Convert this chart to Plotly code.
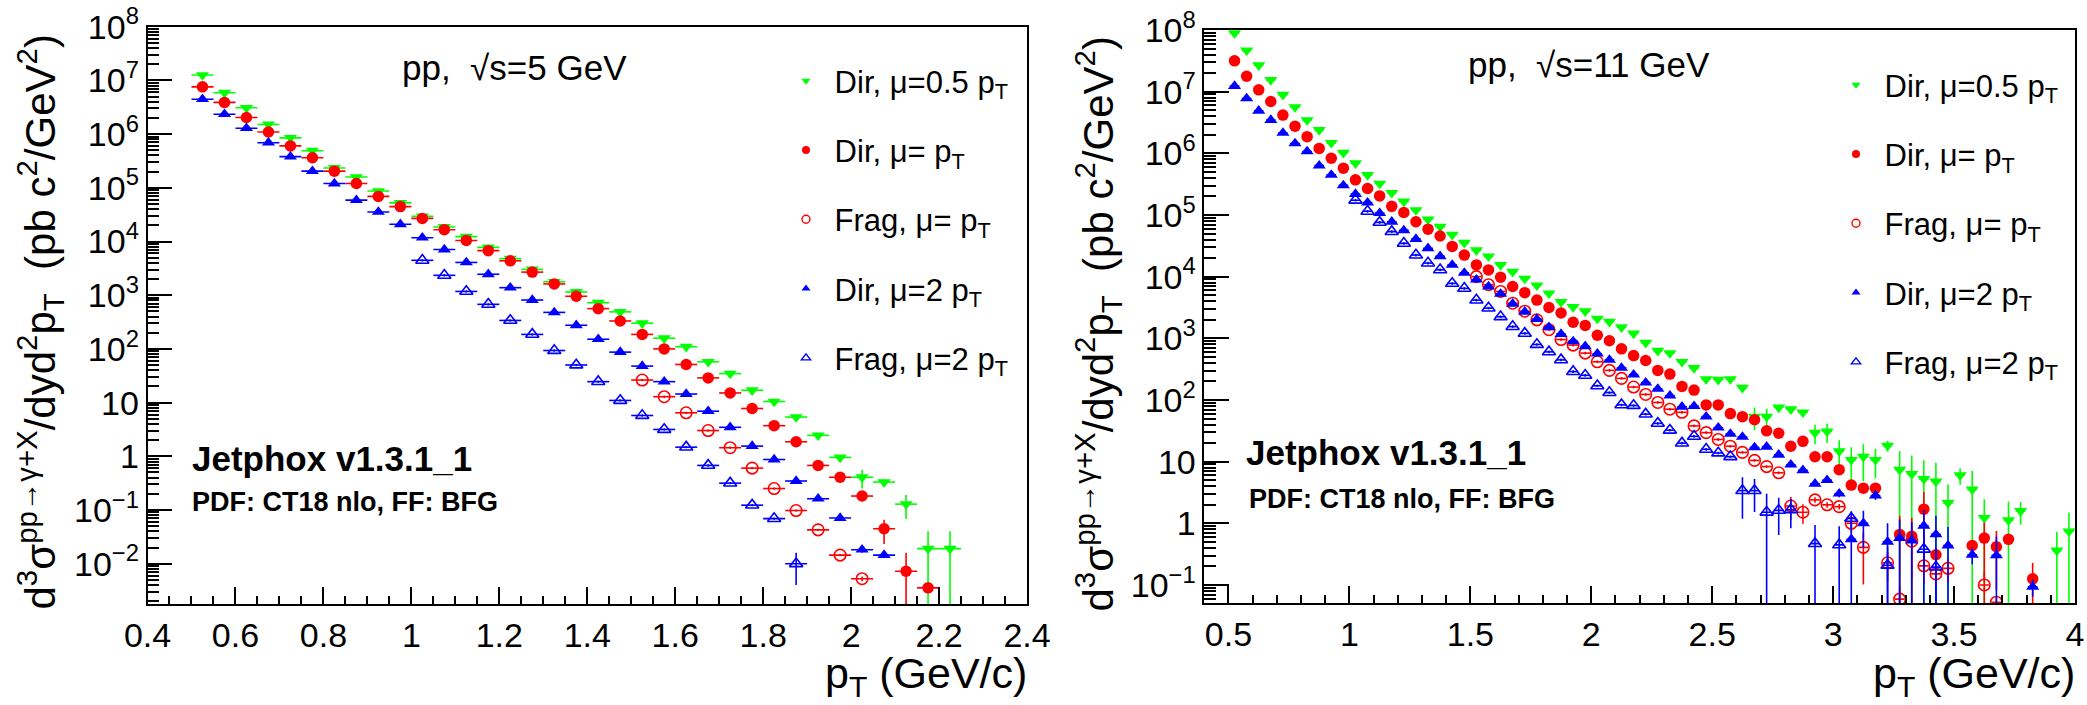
import plotly.graph_objects as go

FONT = "Liberation Sans, Arial, sans-serif"
W, H = 2087, 705

# ---------------- data (values stored as log10 of d3sigma, pb c^2/GeV^2) -------------
bins_L = [0.525, 0.575, 0.625, 0.675, 0.725, 0.775, 0.825, 0.875, 0.925, 0.975,
          1.025, 1.075, 1.125, 1.175, 1.225, 1.275, 1.325, 1.375, 1.425, 1.475,
          1.525, 1.575, 1.625, 1.675, 1.725, 1.775, 1.825, 1.875, 1.925, 1.975,
          2.025, 2.075, 2.125, 2.175, 2.225]
N = None
L_dir05 = [7.10, 6.77, 6.49, 6.18, 5.93, 5.69, 5.37, 5.20, 4.94, 4.72,
           4.47, 4.27, 4.09, 3.89, 3.68, 3.48, 3.25, 3.06, 2.86, 2.69,
           2.48, 2.20, 2.04, 1.76, 1.54, 1.23, 1.02, 0.73, 0.39, -0.02,
           -0.39, -0.48, -0.89, -1.72, -1.72]
L_dir1 = [6.88, 6.59, 6.31, 6.04, 5.78, 5.56, 5.31, 5.08, 4.84, 4.65,
          4.43, 4.22, 4.02, 3.83, 3.64, 3.43, 3.21, 2.98, 2.75, 2.52,
          2.27, 2.00, 1.71, 1.46, 1.18, 0.89, 0.57, 0.27, -0.17, -0.39,
          -0.74, -1.35, -2.14, -2.45, N]
L_frag1 = [N, N, N, N, N, N, N, N, N, N,
           N, N, N, N, N, N, N, N, N, N,
           1.42, 1.11, 0.81, 0.48, 0.16, -0.22, -0.60, -1.01, -1.37, -1.84,
           -2.28, N, N, N, N]
L_dir2 = [6.65, 6.37, 6.11, 5.84, 5.58, 5.31, 5.08, 4.77, 4.55, 4.32,
          4.07, 3.85, 3.61, 3.39, 3.14, 2.91, 2.68, 2.44, 2.18, 1.94,
          1.68, 1.39, 1.16, 0.84, 0.54, 0.19, -0.06, -0.46, -0.79, -1.15,
          -1.74, -1.84, N, N, N]
L_frag2 = [N, N, N, N, N, N, N, N, N, N,
           3.65, 3.37, 3.07, 2.83, 2.53, 2.27, 1.97, 1.70, 1.39, 1.04,
           0.76, 0.50, 0.17, -0.17, -0.50, -0.91, -1.16, -2.00, N, N,
           N, N, N, N, N]
# relative statistical errors (fraction of value)
e = 0.05
L_dir05_err = [e] * 29 + [0.1, 0.38, 0.12, 0.47, 1.1, 1.1]
L_dir1_err = [e] * 30 + [0.1, 0.48, 1.2, 0.15, e]
L_frag1_err = [e] * 30 + [0.1, e, e, e, e]
L_dir2_err = [e] * 30 + [0.12, 0.12, e, e, e]
L_frag2_err = [e] * 27 + [0.6] + [e] * 7

bins_R = [0.525, 0.575, 0.625, 0.675, 0.725, 0.775, 0.825, 0.875, 0.925, 0.975,
          1.025, 1.075, 1.125, 1.175, 1.225, 1.275, 1.325, 1.375, 1.425, 1.475,
          1.525, 1.575, 1.625, 1.675, 1.725, 1.775, 1.825, 1.875, 1.925, 1.975,
          2.025, 2.075, 2.125, 2.175, 2.225, 2.275, 2.325, 2.375, 2.425, 2.475,
          2.525, 2.575, 2.625, 2.675, 2.725, 2.775, 2.825, 2.875, 2.925, 2.975,
          3.025, 3.075, 3.125, 3.175, 3.225, 3.275, 3.325, 3.375, 3.425, 3.475,
          3.525, 3.575, 3.625, 3.675, 3.725, 3.775, 3.825, 3.875, 3.925, 3.975]
R_dir05 = [7.95, 7.67, 7.43, 7.19, 6.95, 6.75, 6.54, 6.38, 6.17, 6.01,
           5.84, 5.65, 5.51, 5.36, 5.22, 5.08, 4.93, 4.81, 4.68, 4.55,
           4.43, 4.33, 4.19, 4.08, 3.97, 3.86, 3.73, 3.59, 3.51, 3.44,
           3.32, 3.27, 3.18, 3.08, 2.93, 2.80, 2.76, 2.62, 2.52, 2.34,
           2.33, 2.34, 2.20, 1.73, 1.73, 1.88, 1.85, 1.80, 1.47, 1.49,
           1.17, 1.03, 1.08, 1.03, 1.26, 0.87, 0.80, 0.72, 0.68, 0.33,
           0.78, 0.55, 0.09, N, 0.05, 0.20, N, N, -0.44, -0.13]
R_dir1 = [7.50, 7.25, 7.03, 6.84, 6.62, 6.44, 6.27, 6.08, 5.92, 5.76,
          5.57, 5.43, 5.31, 5.14, 5.04, 4.89, 4.77, 4.66, 4.49, 4.35,
          4.19, 4.11, 3.99, 3.84, 3.74, 3.62, 3.50, 3.41, 3.26, 3.21,
          3.05, 2.96, 2.83, 2.72, 2.64, 2.48, 2.42, 2.22, 2.16, 1.92,
          1.92, 1.78, 1.73, 1.68, 1.50, 1.46, 1.25, 1.33, 1.08, 1.08,
          0.87, 0.62, 0.57, 0.57, N, -0.18, -0.21, 0.23, -0.51, N,
          N, -0.36, -0.24, -0.38, -0.26, N, -0.90, N, N, N]
R_frag1 = [N, N, N, N, N, N, N, N, N, N,
           N, N, N, N, N, N, N, N, N, N,
           4.00, 3.87, 3.76, 3.57, 3.44, 3.30, 3.14, 2.98, 2.89, 2.76,
           2.62, 2.48, 2.35, 2.21, 2.09, 1.96, 1.85, 1.80, 1.58, 1.47,
           1.36, 1.25, 1.15, 1.02, 0.92, 0.82, 0.28, 0.18, 0.38, 0.30,
           0.27, 0.00, -0.39, N, -0.64, -1.23, -0.29, -0.69, -0.82, -0.73,
           N, N, -1.00, -1.28, N, N, N, N, N, N]
R_dir2 = [7.09, 6.89, 6.69, 6.54, 6.33, 6.16, 6.03, 5.80, 5.65, 5.48,
          5.34, 5.20, 5.03, 4.89, 4.75, 4.61, 4.46, 4.33, 4.19, 4.06,
          3.95, 3.84, 3.72, 3.56, 3.43, 3.31, 3.18, 3.07, 2.95, 2.87,
          2.75, 2.65, 2.52, 2.41, 2.28, 2.18, 2.07, 1.89, 1.90, 1.73,
          1.55, 1.45, 1.40, 1.23, 1.24, 1.11, 0.95, 0.86, 0.64, 0.70,
          0.48, -0.26, 0.00, 0.45, -0.30, -0.24, -0.28, -0.04, -0.18, -0.36,
          N, -0.51, N, -0.52, N, N, -1.03, N, N, N]
R_frag2 = [N, N, N, N, N, N, N, N, N, N,
           5.24, 5.06, 4.88, 4.73, 4.54, 4.35, 4.22, 4.11, 3.89, 3.81,
           3.62, 3.49, 3.35, 3.19, 3.08, 2.90, 2.78, 2.65, 2.46, 2.40,
           2.23, 2.12, 1.92, 1.91, 1.77, 1.62, 1.51, 1.30, 1.41, 1.20,
           1.14, 1.08, 0.53, 0.53, 0.18, 0.21, 0.22, N, -0.33, N,
           -0.35, 0.08, N, N, -0.68, N, N, -0.42, -0.71, N,
           N, N, N, N, N, N, N, N, N, N]
R_dir05_err = ([e] * 43 + [0.4, 0.35, e, e, e, 0.35, 0.35, 0.5, 0.6, 0.6, 0.5, 0.2,
               1.0, 1.0, 1.0, 1.0, 1.0, 0.3, 1.0, 1.0, e, 1.0, 0.4, e, e, 1.0, 1.0])
R_dir1_err = ([e] * 46 + [0.1, e, e, e, e, 0.12, 0.12, 0.12, e, 1.0, 1.0, 0.9, 0.15,
              e, e, 0.2, 0.8, 0.8, 0.15, e, 0.8, e, e, e])
R_frag1_err = ([e] * 46 + [0.4, 0.35, 0.1, 0.1, 0.1, 0.3, 0.75, e, 0.5, 0.6, 0.75,
               0.5, 0.2, 0.4, e, e, 0.6, 0.2, e, e, e, e, e, e])
R_dir2_err = ([e] * 50 + [0.12, 1.0, 0.6, 0.15, 1.0, 1.0, 1.0, 0.8, 1.0, 1.0,
              e, 0.3, e, 1.0, e, e, 0.3, e, e, e])
R_frag2_err = ([e] * 42 + [0.65, 0.55, 1.0, 0.6, 0.5, e, 1.0, e, 1.0, 0.3, e, e,
               1.0, e, e, 1.0, 1.0, e, e, e, e, e, e, e, e, e, e, e])

names = [" Dir, \u03bc=0.5 p<sub>T</sub>", " Dir, \u03bc= p<sub>T</sub>",
         " Frag, \u03bc= p<sub>T</sub>", " Dir, \u03bc=2 p<sub>T</sub>",
         " Frag, \u03bc=2 p<sub>T</sub>"]
colors = ["#00ff00", "#ff0000", "#ff0000", "#0000ff", "#0000ff"]
symbols = ["triangle-down", "circle", "circle-open", "triangle-up", "triangle-up-open"]
sizes = [11.5, 11.5, 11.5, 11.5, 11.5]

fig = go.Figure()


def add_panel(bins, series, errs, xa, ya, half):
    for k, (logs, fr) in enumerate(zip(series, errs)):
        xs, ys, ep, em = [], [], [], []
        for x, l, f in zip(bins, logs, fr):
            if l is None:
                continue
            v = 10 ** l
            xs.append(x)
            ys.append(v)
            ep.append(f * v)
            em.append(min(f, 0.9995) * v)
        openm = symbols[k].endswith("open")
        fig.add_trace(go.Scatter(
            x=xs, y=ys, mode="markers", xaxis=xa, yaxis=ya, showlegend=False,
            marker=dict(symbol=symbols[k], size=sizes[k], color=colors[k],
                        line=dict(color=colors[k], width=1.6 if openm else 0)),
            error_y=dict(type="data", symmetric=False, array=ep, arrayminus=em,
                         color=colors[k], thickness=1.6, width=0),
            error_x=dict(type="constant", value=half, color=colors[k],
                         thickness=1.6, width=0),
        ))


add_panel(bins_L, [L_dir05, L_dir1, L_frag1, L_dir2, L_frag2],
          [L_dir05_err, L_dir1_err, L_frag1_err, L_dir2_err, L_frag2_err], "x", "y", 0.025)
add_panel(bins_R, [R_dir05, R_dir1, R_frag1, R_dir2, R_frag2],
          [R_dir05_err, R_dir1_err, R_frag1_err, R_dir2_err, R_frag2_err], "x2", "y2", 0.02)

# legend entries (marker-only samples)
for lg, xa, ya in [("legend", "x", "y"), ("legend2", "x2", "y2")]:
    for k in range(5):
        openm = symbols[k].endswith("open")
        fig.add_trace(go.Scatter(
            x=[None], y=[None], mode="markers", xaxis=xa, yaxis=ya, name=names[k],
            legend=lg, legendgroup=lg + str(k), showlegend=True,
            marker=dict(symbol=symbols[k], size=8, color=colors[k],
                        line=dict(color=colors[k], width=1.4 if openm else 0))))

sup = {-2: "10<sup>\u22122</sup>", -1: "10<sup>\u22121</sup>", 0: "1", 1: "10"}
def ytick(lo, hi):
    vals = [10.0 ** d for d in range(lo, hi + 1)]
    txt = [sup.get(d, "10<sup>%d</sup>" % d) for d in range(lo, hi + 1)]
    minor = [m * 10.0 ** d for d in range(lo - 1, hi) for m in range(2, 10)]
    return vals, txt, minor

axcommon = dict(showline=True, mirror=True, linecolor="black", linewidth=1.5,
                showgrid=False, zeroline=False, ticks="inside", tickwidth=1.5,
                tickcolor="black", automargin=False,
                tickfont=dict(family=FONT, size=34, color="black"))

yv, yt, ym = ytick(-2, 8)
fig.update_layout(
    xaxis=dict(domain=[147.5 / W, 1027 / W], range=[0.4, 2.4], anchor="y",
               tick0=0.4, dtick=0.2, ticklen=18,
               minor=dict(ticks="inside", ticklen=9, tick0=0.4, dtick=0.05,
                          tickwidth=1.5, tickcolor="black"), **axcommon),
    yaxis=dict(domain=[1 - 604.3 / H, 1 - 26.7 / H], type="log", range=[-2.756, 8.0],
               anchor="x", tickmode="array", tickvals=yv, ticktext=yt, ticklen=25,
               minor=dict(ticks="inside", ticklen=12, tickmode="array", tickvals=ym,
                          tickwidth=1.5, tickcolor="black"), **axcommon),
)
yv2, yt2, ym2 = ytick(-1, 8)
fig.update_layout(
    xaxis2=dict(domain=[1204.3 / W, 2075 / W], range=[0.4, 4.0], anchor="y2",
                tick0=0.5, dtick=0.5, ticklen=18,
                minor=dict(ticks="inside", ticklen=9, tick0=0.4, dtick=0.1,
                           tickwidth=1.5, tickcolor="black"), **axcommon),
    yaxis2=dict(domain=[1 - 603.3 / H, 1 - 30 / H], type="log", range=[-1.297, 8.0],
                anchor="x2", tickmode="array", tickvals=yv2, ticktext=yt2, ticklen=25,
                minor=dict(ticks="inside", ticklen=12, tickmode="array", tickvals=ym2,
                           tickwidth=1.5, tickcolor="black"), **axcommon),
)

legstyle = dict(font=dict(family=FONT, size=31, color="black"), bgcolor="rgba(0,0,0,0)",
                traceorder="grouped", tracegroupgap=26, xanchor="left", yanchor="top",
                itemsizing="trace")
fig.update_layout(
    legend=dict(x=786 / W, y=1 - 54 / H, **legstyle),
    legend2=dict(x=1836 / W, y=1 - 58 / H, **legstyle),
)

ytitle = ("d<sup>3</sup>\u03c3<sup>pp\u2192\u03b3+X</sup>/dyd<sup>2</sup>p<sub>T</sub>"
          "  (pb c<sup>2</sup>/GeV<sup>2</sup>)")
xtitle = "p<sub>T</sub> (GeV/c)"
ann = []
def txt(x, y, s, size, xa="left", ya="middle", angle=0):
    ann.append(dict(x=x / W, y=1 - y / H, xref="paper", yref="paper", text=s,
                    showarrow=False, xanchor=xa, yanchor=ya, textangle=angle,
                    font=dict(family=FONT, size=size, color="black")))

txt(400, 67, "pp,  \u221as=5 GeV", 35)
txt(1466, 64, "pp,  \u221as=11 GeV", 35)
txt(190, 458, "<b>Jetphox v1.3.1_1</b>", 35)
txt(190, 502, "<b>PDF: CT18 nlo, FF: BFG</b>", 27)
txt(1244, 452, "<b>Jetphox v1.3.1_1</b>", 35)
txt(1247, 499, "<b>PDF: CT18 nlo, FF: BFG</b>", 27)
txt(40, 33, ytitle, 42, xa="center", ya="top", angle=-90)
txt(1098, 35, ytitle, 42, xa="center", ya="top", angle=-90)
txt(1029, 705, xtitle, 43, xa="right", ya="bottom")
txt(2077, 705, xtitle, 43, xa="right", ya="bottom")

fig.update_layout(annotations=ann, width=W, height=H,
                  margin=dict(l=0, r=0, t=0, b=0),
                  paper_bgcolor="white", plot_bgcolor="white",
                  font=dict(family=FONT, color="black"))

fig.write_html("out.html", config={"displayModeBar": False},
               post_script="document.body.style.margin='0px';"
                           "document.body.style.padding='0px';"
                           "document.body.style.overflow='hidden';")
